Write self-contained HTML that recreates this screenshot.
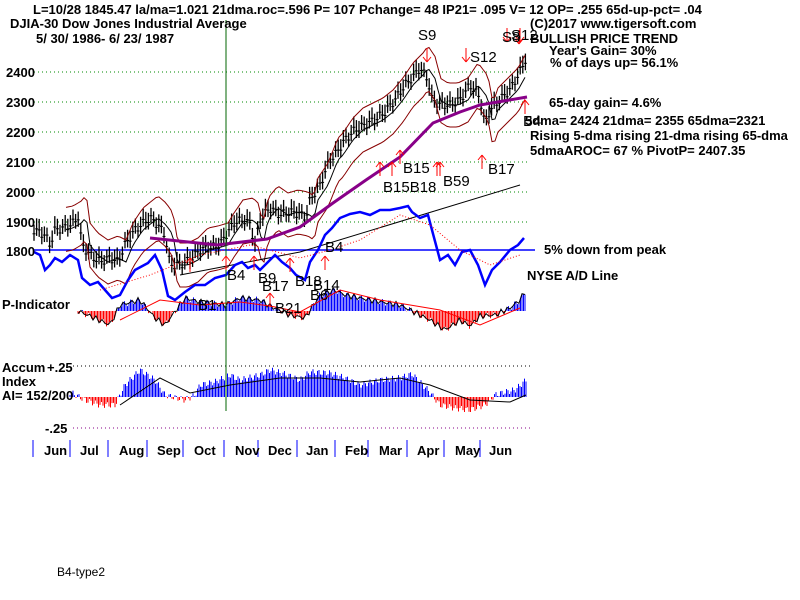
<!DOCTYPE html><html><head><style>
body{margin:0;background:#fff}
svg{display:block}
text{font-family:"Liberation Sans",Arial,sans-serif;font-weight:bold;font-size:13px;fill:#000}
</style></head><body>
<svg id="s" width="800" height="600" xmlns="http://www.w3.org/2000/svg">
<g id="g"></g>
<text x="33" y="14">L=10/28  1845.47  la/ma=1.021  21dma.roc=.596  P=  107  Pchange=  48  IP21= .095  V= 12  OP= .255  65d-up-pct= .04</text>
<text x="10" y="28">DJIA-30  Dow Jones Industrial Average</text>
<text x="530" y="28">(C)2017 www.tigersoft.com</text>
<text x="36" y="43">5/ 30/ 1986-  6/ 23/ 1987</text>
<text x="530" y="43">BULLISH PRICE TREND</text>
<text x="549" y="55">Year's Gain= 30%</text>
<text x="550" y="67">% of days up= 56.1%</text>
<text x="549" y="107">65-day gain= 4.6%</text>
<text x="525" y="125">5dma= 2424 21dma= 2355 65dma=2321</text>
<text x="530" y="140">Rising 5-dma  rising 21-dma  rising 65-dma</text>
<text x="530" y="155">5dmaAROC= 67 %  PivotP= 2407.35</text>
<text x="544" y="254">5% down from peak</text>
<text x="527" y="280">NYSE A/D Line</text>
<text x="6" y="77">2400</text><text x="6" y="107">2300</text><text x="6" y="137">2200</text><text x="6" y="167">2100</text><text x="6" y="197">2000</text><text x="6" y="227">1900</text><text x="6" y="256">1800</text>
<text x="2" y="309">P-Indicator</text>
<text x="2" y="372">Accum</text><text x="47" y="372">+.25</text>
<text x="2" y="386">Index</text>
<text x="2" y="400">AI= 152/200</text>
<text x="45" y="433">-.25</text>
<text x="57" y="576" style="font-weight:normal;font-size:12px">B4-type2</text>
<text x="418" y="40" style="font-weight:normal;font-size:15px">S9</text>
<text x="470" y="62" style="font-weight:normal;font-size:15px">S12</text>
<text x="502" y="42" style="font-weight:normal;font-size:15px">S8</text>
<text x="511" y="40" style="font-weight:normal;font-size:15px">S12</text>
<text x="403" y="173" style="font-weight:normal;font-size:15px">B15</text>
<text x="488" y="174" style="font-weight:normal;font-size:15px">B17</text>
<text x="383" y="192" style="font-weight:normal;font-size:15px">B15B18</text>
<text x="443" y="186" style="font-weight:normal;font-size:15px">B59</text>
<text x="227" y="280" style="font-weight:normal;font-size:15px">B4</text>
<text x="325" y="252" style="font-weight:normal;font-size:15px">B4</text>
<text x="258" y="283" style="font-weight:normal;font-size:15px">B9</text>
<text x="262" y="291" style="font-weight:normal;font-size:15px">B17</text>
<text x="295" y="286" style="font-weight:normal;font-size:15px">B18</text>
<text x="313" y="290" style="font-weight:normal;font-size:15px">B14</text>
<text x="310" y="300" style="font-weight:normal;font-size:15px">B6</text>
<text x="198" y="310" style="font-weight:normal;font-size:15px">B1</text>
<text x="275" y="313" style="font-weight:normal;font-size:15px">B21</text>
<text x="523" y="126" style="font-weight:normal;font-size:15px">B4</text>
<text x="44" y="455">Jun</text><text x="80" y="455">Jul</text><text x="119" y="455">Aug</text><text x="157" y="455">Sep</text><text x="194" y="455">Oct</text><text x="235" y="455">Nov</text><text x="268" y="455">Dec</text><text x="306" y="455">Jan</text><text x="345" y="455">Feb</text><text x="379" y="455">Mar</text><text x="417" y="455">Apr</text><text x="455" y="455">May</text><text x="489" y="455">Jun</text>
</svg>
<script>
var g=document.getElementById('g'),o='';
function L(a,b,c,d,s,w,da){o+='<line x1="'+a+'" y1="'+b+'" x2="'+c+'" y2="'+d+'" stroke="'+s+'" stroke-width="'+(w||1)+'"'+(da?' stroke-dasharray="'+da+'"':'')+'/>';}
function P(pts,s,w,da){o+='<polyline fill="none" points="'+pts.map(p=>p.join(',')).join(' ')+'" stroke="'+s+'" stroke-width="'+(w||1)+'"'+(da?' stroke-dasharray="'+da+'"':'')+'/>';}
function interp(k,x){for(var i=0;i<k.length-1;i++){if(x>=k[i][0]&&x<=k[i+1][0]){var t=(x-k[i][0])/(k[i+1][0]-k[i][0]);return k[i][1]+t*(k[i+1][1]-k[i][1]);}}return k[k.length-1][1];}
[72,102,132,162,192,222].forEach(y=>L(34,y,530,y,'#080','1','1,3'));
L(73,366,530,366,'#000',1,'1,3');L(73,428,530,428,'#808',1,'1,3');
L(33,250,535,250,'#00f',1.5);
var price=[[34,230],[45,235],[50,245],[55,230],[65,228],[75,222],[78,215],[82,245],[90,255],[100,262],[110,258],[118,262],[125,245],[135,230],[150,218],[158,225],[165,235],[170,265],[180,265],[190,260],[200,250],[210,248],[220,245],[226,235],[235,222],[245,220],[250,225],[255,245],[260,220],[270,208],[280,215],[290,212],[300,214],[306,218],[310,200],[320,185],[330,160],[335,155],[345,140],[355,130],[365,125],[375,120],[385,112],[395,100],[405,85],[415,75],[420,68],[428,80],[432,100],[440,105],[450,105],[460,100],[470,85],[480,98],[485,125],[490,110],[500,100],[510,90],[520,72],[525,60]];
var sd=7;
for(var x=34;x<=526;x+=2.6){var y=interp(price,x)+Math.sin(x*1.7)*4;L(x,y-sd-Math.abs(Math.sin(x))*4,x,y+sd,'#000',1.3);L(x-1.5,y,x+1.5,y,'#000',1);}
function sh(arr,d,x0){var r=[];for(var x=x0||34;x<=526;x+=3){r.push([x,interp(arr,x-d)]);}return r;}
var ma21=sh(price,8,66);P(ma21,'#000',1);
P(ma21.map(p=>[p[0],p[1]-22]),'#800',1);P(ma21.map(p=>[p[0],p[1]+22]),'#800',1);
var ma65=[[150,238],[217,245],[267,239],[300,227],[333,203],[366,180],[400,157],[433,123],[460,112],[480,105],[527,97]];P(ma65,'#808',3);
P([[180,275],[300,252],[520,185]],'#000',1);
var ad=[[34,252],[40,255],[45,270],[50,265],[55,258],[62,262],[70,255],[78,260],[82,278],[90,285],[98,282],[105,290],[112,298],[120,295],[128,280],[135,270],[148,263],[155,255],[162,270],[168,296],[175,300],[185,292],[195,285],[205,285],[215,278],[226,275],[235,265],[242,262],[248,268],[255,265],[260,270],[268,262],[275,255],[282,262],[290,268],[296,275],[305,280],[310,262],[318,250],[325,235],[332,228],[340,218],[350,214],[360,212],[370,215],[380,210],[390,210],[400,208],[408,206],[412,212],[420,218],[428,215],[436,245],[440,260],[448,255],[455,265],[462,252],[470,250],[478,265],[485,285],[492,270],[500,262],[510,250],[518,245],[524,238]];
P(ad,'#00f',2.5);
P([[100,290],[150,275],[200,255],[250,245],[300,258],[330,250],[360,240],[400,215],[430,225],[460,250],[490,265],[520,255]],'#f00',1,'1,2');
var pb=311,pk=[[78,311],[90,316],[110,325],[120,305],[140,300],[155,318],[165,325],[185,298],[200,302],[226,305],[240,298],[260,300],[270,306],[290,315],[305,318],[320,295],[335,290],[345,295],[370,300],[400,305],[410,310],[430,320],[445,330],[460,320],[470,326],[480,316],[495,315],[510,308],[520,300],[526,290]];
for(var x=78;x<=526;x+=1.5){var v=interp(pk,x)+Math.sin(x*0.9)*3;L(x,pb,x,v,v<pb?'#00f':'#f00',1);}
P(sh(pk,0,78).map(p=>[p[0],p[1]+Math.sin(p[0]*0.9)*3]),'#000',1);
P([[120,320],[160,300],[200,305],[240,302],[270,306],[300,312],[340,290],[380,300],[440,310],[480,325],[520,308]],'#f00',1);
var ab=397,ak=[[70,392],[85,400],[100,405],[115,405],[125,385],[140,370],[155,380],[165,395],[185,400],[195,395],[200,385],[215,382],[230,375],[240,380],[260,375],[270,370],[285,374],[300,380],[310,372],[330,373],[345,378],[360,385],[380,380],[400,378],[412,374],[428,390],[440,405],[455,408],[470,410],[485,405],[495,395],[505,392],[515,390],[526,380]];
for(var x=70;x<=526;x+=1.5){var v=interp(ak,x)+Math.sin(x*1.1)*3;L(x,ab,x,v,v<ab?'#00f':'#f00',1);}
P([[120,405],[160,378],[190,393],[230,385],[280,378],[320,378],[360,382],[400,378],[430,385],[470,400],[510,402],[526,395]],'#000',1);
[33,70,108,147,183,224,258,297,335,368,407,444,480].forEach(x=>L(x,440,x,457,'#00f',1));
L(226,20,226,411,'#060',1);
function up(x,y){L(x,y,x,y+14,'#f00',1);L(x-4,y+5,x,y,'#f00',1);L(x+4,y+5,x,y,'#f00',1);}
function dn(x,y){L(x,y,x,y+14,'#f00',1);L(x-4,y+9,x,y+14,'#f00',1);L(x+4,y+9,x,y+14,'#f00',1);}
[[226,256],[254,256],[290,258],[325,256],[380,162],[392,162],[400,150],[437,162],[440,162],[482,155],[525,100],[270,293],[190,258]].forEach(a=>up(a[0],a[1]));
[[427,48],[466,48],[507,28],[519,30],[520,28]].forEach(a=>dn(a[0],a[1]));
g.innerHTML=o;
</script>
</body></html>
